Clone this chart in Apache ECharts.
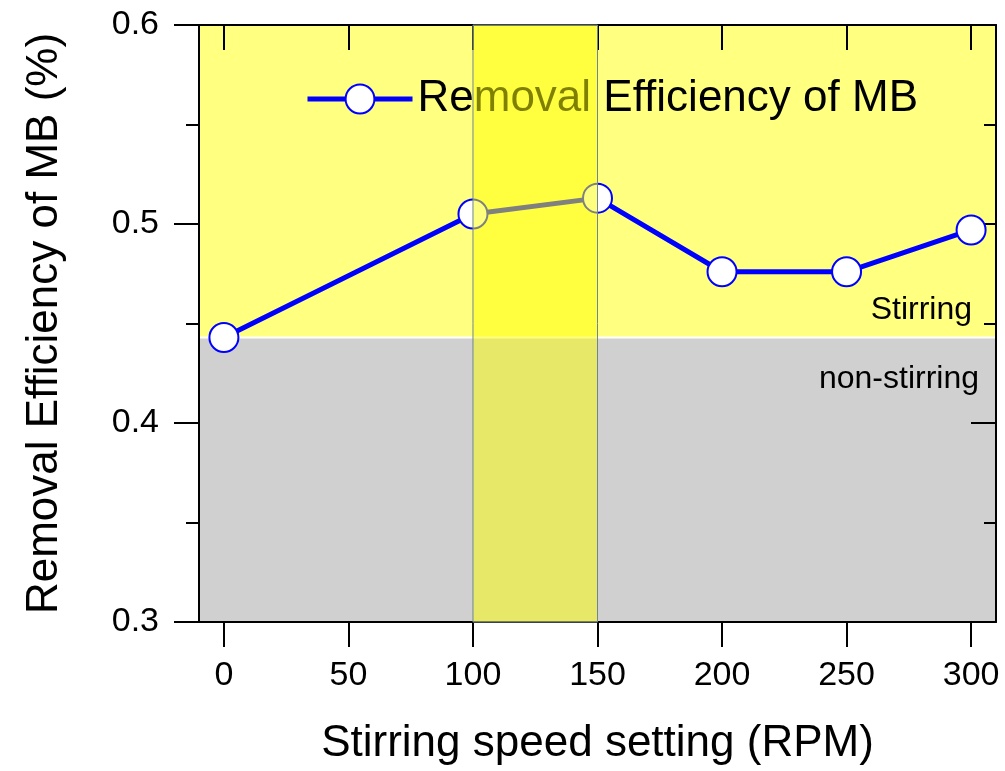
<!DOCTYPE html>
<html>
<head>
<meta charset="utf-8">
<script src="https://cdn.jsdelivr.net/npm/echarts@6/dist/echarts.min.js"></script>
<style>
  html, body { margin: 0; padding: 0; background: #fff; }
  #chart { width: 1005px; height: 771px; }
</style>
</head>
<body>
<div id="chart"></div>
<script>
// data
var speeds = [0, 100, 150, 200, 250, 300];
var efficiency = [0.443, 0.505, 0.513, 0.476, 0.476, 0.497];
var xTicks = [0, 50, 100, 150, 200, 250, 300];
var stirringBand = [100, 150];     // highlighted speed range
var stirringLevel = 0.443;         // boundary between stirring / non-stirring zones

var FONT = "'Liberation Sans', Arial, sans-serif";
var chart = echarts.init(document.getElementById('chart'));

var axisLine = { show: true, onZero: false, lineStyle: { color: '#000', width: 2 } };

var option = {
  animation: false,
  textStyle: { fontFamily: FONT, color: '#000' },
  grid: { left: 199, right: 9, top: 25, bottom: 148, containLabel: false },
  legend: {
    data: ['Removal Efficiency of MB'],
    left: 305, top: 77, z: 5, padding: 0,
    itemWidth: 105, itemHeight: 36,
    lineStyle: { width: 5 },
    textStyle: { fontSize: 44, fontFamily: FONT, color: '#000' }
  },
  xAxis: [{
    type: 'value', min: -10, max: 310, z: 3,
    name: 'Stirring speed setting (RPM)', nameLocation: 'middle', nameGap: 100,
    nameTextStyle: { fontSize: 44, fontFamily: FONT, color: '#000' },
    axisLine: axisLine,
    axisTick: { show: true, inside: false, length: 25, customValues: xTicks, lineStyle: { color: '#000', width: 2 } },
    axisLabel: { show: true, margin: 37, fontSize: 34, fontFamily: FONT, color: '#000', customValues: xTicks },
    splitLine: { show: false }
  }, {
    type: 'value', min: -10, max: 310, position: 'top', z: 3,
    axisLine: axisLine,
    axisTick: { show: true, inside: true, length: 25, customValues: xTicks, lineStyle: { color: '#000', width: 2 } },
    axisLabel: { show: false },
    splitLine: { show: false }
  }],
  yAxis: [{
    type: 'value', min: 0.3, max: 0.6, interval: 0.1, z: 3,
    name: 'Removal Efficiency of MB (%)', nameLocation: 'middle', nameGap: 132,
    nameTextStyle: { fontSize: 44, fontFamily: FONT, color: '#000' },
    axisLine: axisLine,
    axisTick: { show: true, inside: false, length: 25, lineStyle: { color: '#000', width: 2 } },
    minorTick: { show: true, splitNumber: 2, length: 13, lineStyle: { color: '#000', width: 2 } },
    axisLabel: { margin: 40, fontSize: 34, fontFamily: FONT, color: '#000',
      formatter: function (v) { return v.toFixed(1); } },
    splitLine: { show: false }
  }, {
    type: 'value', min: 0.3, max: 0.6, interval: 0.1, position: 'right', z: 3,
    axisLine: axisLine,
    axisTick: { show: true, inside: true, length: 25, lineStyle: { color: '#000', width: 2 } },
    minorTick: { show: true, splitNumber: 2, length: 12, lineStyle: { color: '#000', width: 2 } },
    axisLabel: { show: false },
    splitLine: { show: false }
  }],
  series: [{
    // stirring / non-stirring background zones
    type: 'custom', name: 'zones', silent: true, z: 1,
    xAxisIndex: 0, yAxisIndex: 0,
    data: [[0, stirringLevel]],
    renderItem: function (params, api) {
      var cs = params.coordSys;
      var top = api.coord([0, 0.6])[1];
      var mid = api.coord([0, stirringLevel])[1];
      var bot = api.coord([0, 0.3])[1];
      var right = cs.x + cs.width;
      return {
        type: 'group',
        children: [{
          type: 'rect',
          shape: { x: cs.x, y: top, width: cs.width, height: mid - top },
          style: { fill: '#ffff80' }
        }, {
          type: 'rect',
          shape: { x: cs.x, y: mid, width: cs.width, height: bot - mid },
          style: { fill: '#d0d0d0', stroke: '#fff', lineWidth: 2 }
        }, {
          type: 'text',
          x: right - 24, y: mid - 27,
          style: { text: 'Stirring', font: '32px ' + FONT, fill: '#000', align: 'right', verticalAlign: 'middle' }
        }, {
          type: 'text',
          x: right - 17, y: mid + 42,
          style: { text: 'non-stirring', font: '32px ' + FONT, fill: '#000', align: 'right', verticalAlign: 'middle' }
        }]
      };
    }
  }, {
    name: 'Removal Efficiency of MB',
    type: 'line', z: 4,
    data: speeds.map(function (s, i) { return [s, efficiency[i]]; }),
    symbol: 'circle', symbolSize: 29,
    lineStyle: { color: '#0000ff', width: 5 },
    itemStyle: { color: '#ffffff', borderColor: '#0000ff', borderWidth: 2 }
  }, {
    // semi-transparent highlight band drawn over everything
    type: 'custom', name: 'band', silent: true, z: 10,
    data: [[stirringBand[0], stirringBand[1]]],
    renderItem: function (params, api) {
      var p1 = api.coord([api.value(0), 0.6]);
      var p2 = api.coord([api.value(1), 0.3]);
      return {
        type: 'rect',
        shape: { x: p1[0], y: p1[1], width: p2[0] - p1[0], height: p2[1] - p1[1] },
        style: { fill: 'rgba(255,255,0,0.5)', stroke: '#6f8499', lineWidth: 1 }
      };
    }
  }]
};

chart.setOption(option);
</script>
</body>
</html>
